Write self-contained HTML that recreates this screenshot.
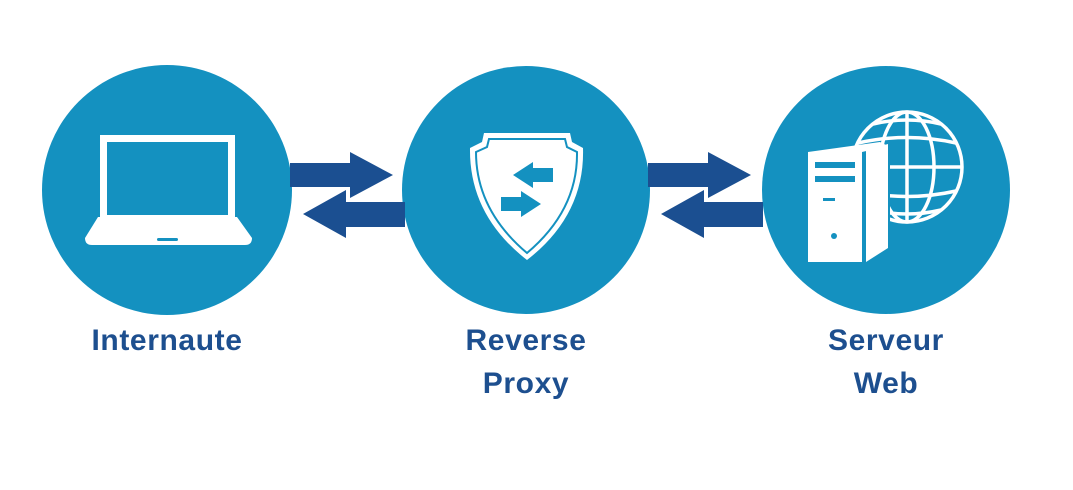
<!DOCTYPE html>
<html><head><style>
body{margin:0;background:#fff;width:1073px;height:490px;overflow:hidden}
svg{display:block}
text{font-family:"Liberation Sans",sans-serif;font-weight:bold;font-size:30px;letter-spacing:0.6px;fill:#1d4f8f;text-anchor:middle}
</style></head><body>
<svg width="1073" height="490" viewBox="0 0 1073 490">
<circle cx="167" cy="190" r="125" fill="#1491c0"/>
<circle cx="526" cy="190" r="124" fill="#1491c0"/>
<circle cx="886" cy="190" r="124" fill="#1491c0"/>
<g fill="#1b4f91">
<polygon points="290,163 350,163 350,152 393,175 350,198 350,187 290,187"/>
<polygon points="405,202 346,202 346,190 303,214 346,238 346,227 405,227"/>
<polygon points="648,163 708,163 708,152 751,175 708,198 708,187 648,187"/>
<polygon points="763,202 704,202 704,190 661,214 704,238 704,227 763,227"/>
</g>
<rect x="100" y="135" width="135" height="82" fill="#fff"/>
<rect x="107" y="142" width="121" height="73" fill="#1491c0"/>
<path d="M98,217 L237,217 L252,238 Q252,245 245,245 L92,245 Q85,245 85,238 Z" fill="#fff"/>
<rect x="157" y="238" width="21" height="3" rx="1.5" fill="#1491c0"/>
<path d="M470,148 L482,142 L484,133 L570,133 L572,142 L583,148 Q585,215 527,260 Q469,215 470,148 Z" fill="#fff"/>
<path d="M476,152 L487,147 L489,139 L565,139 L567,147 L577,152 Q578,210 527,253 Q476,210 476,152 Z" fill="none" stroke="#1491c0" stroke-width="2"/>
<g fill="#1491c0">
<polygon points="553,168 533,168 533,162 513,175 533,188 533,182 553,182"/>
<polygon points="501,197 521,197 521,191 541,204 521,217 521,211 501,211"/>
</g>
<g stroke="#fff" stroke-width="3.5" fill="none">
<circle cx="907" cy="167" r="55"/>
<ellipse cx="907" cy="167" rx="27" ry="55"/>
<line x1="907" y1="112" x2="907" y2="222"/>
<line x1="852" y1="167" x2="962" y2="167"/>
<path d="M858,143 Q907,132 956,143"/>
<path d="M858,191 Q907,202 956,191"/>
<path d="M873,124 Q907,116 941,124"/>
<path d="M873,210 Q907,218 941,210"/>
</g>
<polygon points="806,150 860,150 888,144 890,144 890,250 862,264 806,264" fill="#1491c0"/>
<polygon points="808,152 862,152 862,262 808,262" fill="#fff"/>
<polygon points="808,152 880,142 888,146 862,152" fill="#fff"/>
<polygon points="866,150 888,144 888,248 866,262" fill="#fff"/>
<g fill="#1491c0">
<rect x="815" y="162" width="40" height="6"/>
<rect x="815" y="176" width="40" height="6"/>
<rect x="823" y="198" width="12" height="3"/>
<circle cx="834" cy="236" r="3"/>
</g>
<text x="167" y="350">Internaute</text>
<text x="526" y="350">Reverse</text>
<text x="526" y="393">Proxy</text>
<text x="886" y="350">Serveur</text>
<text x="886" y="393">Web</text>
</svg>
</body></html>
